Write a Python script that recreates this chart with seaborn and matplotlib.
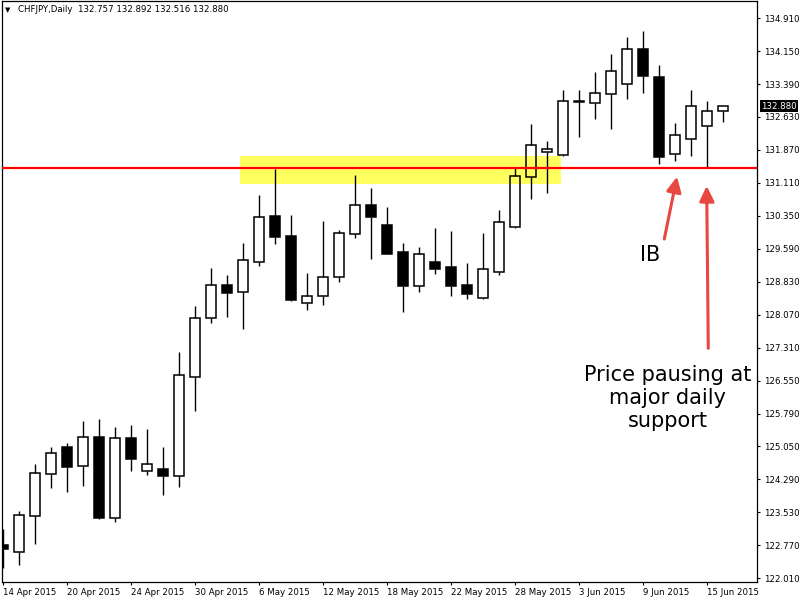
import numpy as np
import pandas as pd
import matplotlib
matplotlib.use("Agg")
import matplotlib.pyplot as plt
import matplotlib.transforms as mtransforms
import matplotlib.patheffects as pe
from matplotlib.patches import Rectangle
import seaborn as sns

sns.set_theme(style="white")
plt.rcParams["font.family"] = ["DejaVu Sans"]

# ---------------- data ----------------
opens = [122.770, 122.616, 123.445, 124.413, 125.021, 124.583, 125.251, 123.385, 125.228, 124.468,
         124.514, 124.353, 126.633, 127.993, 128.753, 128.592, 129.283, 130.342, 129.882, 128.338,
         128.500, 128.937, 129.928, 130.596, 130.135, 129.513, 128.730, 129.283, 129.166, 128.753,
         128.453, 129.052, 130.089, 131.241, 131.817, 131.747, 132.985, 132.945, 133.153, 133.383,
         134.189, 133.544, 131.771, 132.123, 132.416, 132.757]
highs = [123.132, 123.554, 124.636, 125.028, 125.120, 125.627, 125.673, 125.489, 125.535, 125.443,
         125.028, 127.223, 128.276, 129.151, 128.990, 129.727, 130.833, 131.425, 130.365, 129.029,
         130.234, 130.027, 131.294, 130.987, 130.557, 129.727, 129.635, 130.073, 130.004, 129.267,
         129.958, 130.487, 131.478, 132.462, 132.077, 133.252, 133.252, 133.666, 134.081, 134.473,
         134.611, 133.828, 132.485, 133.252, 132.998, 132.892]
lows = [122.233, 122.317, 122.793, 124.090, 123.998, 124.136, 123.362, 123.307, 124.482, 124.390,
        123.929, 124.113, 125.864, 127.891, 128.030, 127.753, 129.204, 129.711, 128.398, 128.191,
        128.306, 128.836, 129.842, 129.352, 129.474, 128.145, 128.605, 129.020, 128.500, 128.444,
        128.440, 128.997, 130.080, 130.741, 130.872, 131.740, 132.176, 132.577, 132.360, 133.051,
        133.190, 131.554, 131.623, 131.724, 131.485, 132.516]
closes = [122.685, 123.455, 124.422, 124.883, 124.574, 125.251, 123.385, 125.228, 124.758, 124.629,
          124.367, 126.680, 127.993, 128.760, 128.582, 129.329, 130.319, 129.872, 128.421, 128.500,
          128.937, 129.951, 130.596, 130.333, 129.481, 128.744, 129.467, 129.135, 128.730, 128.560,
          129.121, 130.204, 131.264, 131.978, 131.886, 132.991, 132.995, 133.176, 133.683, 134.189,
          133.567, 131.701, 132.208, 132.876, 132.761, 132.880]

x_tick_labels = ["14 Apr 2015", "20 Apr 2015", "24 Apr 2015", "30 Apr 2015", "6 May 2015",
                 "12 May 2015", "18 May 2015", "22 May 2015", "28 May 2015", "3 Jun 2015",
                 "9 Jun 2015", "15 Jun 2015"]
y_tick_values = [134.910, 134.150, 133.390, 132.630, 131.870, 131.110, 130.350, 129.590, 128.830,
                 128.070, 127.310, 126.550, 125.790, 125.050, 124.290, 123.530, 122.770, 122.010]
y_tick_labels = ["134.910", "134.150", "133.390", "132.630", "131.870", "131.110", "130.350",
                 "129.590", "128.830", "128.070", "127.310", "126.550", "125.790", "125.050",
                 "124.290", "123.530", "122.770", "122.010"]

support_level = 131.448
zone_low, zone_high = 131.093, 131.731
current_price = 132.880
title_text = "CHFJPY,Daily  132.757 132.892 132.516 132.880"

df = pd.DataFrame({"open": opens, "high": highs, "low": lows, "close": closes})
df["idx"] = np.arange(len(df))
df["top"] = df[["open", "close"]].max(axis=1)
df["bot"] = df[["open", "close"]].min(axis=1)
df["bull"] = df["close"] >= df["open"]

# ---------------- figure ----------------
fig = plt.figure(figsize=(8, 6), dpi=100)
fig.patch.set_facecolor("white")
ax = fig.add_axes([2 / 800, 1 - 582 / 600, 755 / 800, 581 / 600])
ax.set_facecolor("white")

# yellow zone
ax.add_patch(Rectangle((14.81, zone_low), 34.875 - 14.81, zone_high - zone_low,
                       facecolor="#ffff60", edgecolor="none", zorder=0.5))

# wicks
ax.vlines(df["idx"], df["top"], df["high"], color="black", lw=1.0, zorder=2)
ax.vlines(df["idx"], df["low"], df["bot"], color="black", lw=1.0, zorder=2)

# bodies
heights = np.maximum(df["top"] - df["bot"], 0.004)
bull = df["bull"].values
ax.bar(df["idx"][bull], heights[bull], bottom=df["bot"][bull], width=0.66,
       facecolor="none", edgecolor="black", linewidth=1.1, zorder=3)
ax.bar(df["idx"][~bull], heights[~bull], bottom=df["bot"][~bull], width=0.66,
       facecolor="black", edgecolor="black", linewidth=1.1, zorder=3)

# support line
ax.axhline(support_level, color="#ff0000", lw=1.6, zorder=4)

ax.set_xlim(-0.0625, 47.125)
ax.set_ylim(121.918, 135.302)

# axes styling
for s in ax.spines.values():
    s.set_color("black")
    s.set_linewidth(0.9)
    s.set_visible(True)

ax.yaxis.tick_right()
ax.set_yticks(y_tick_values)
ax.set_yticklabels(y_tick_labels)
ax.set_xticks(list(range(0, 4 * len(x_tick_labels), 4)))
ax.set_xticklabels(x_tick_labels, ha="left")
ax.tick_params(axis="y", which="both", left=False, right=True, labelleft=False, labelright=True,
               direction="out", length=2.5, width=0.8, color="black", labelsize=6.2,
               labelcolor="black", pad=2.5)
ax.tick_params(axis="x", which="both", bottom=True, top=False, direction="out", length=2.5,
               width=0.8, color="black", labelsize=6.2, labelcolor="black", pad=2)
ax.grid(False)

# current price tag
trans = mtransforms.blended_transform_factory(ax.transAxes, ax.transData)
ax.text(1 + 4 / 755, current_price, "132.880", transform=trans, ha="left", va="center",
        fontsize=6.2, color="white", zorder=10, clip_on=False,
        bbox=dict(facecolor="black", edgecolor="none", pad=1.0))

# title
fig.text(5 / 800, 1 - 10 / 600, "\u25bc", fontsize=5, va="center", ha="left", color="black")
fig.text(18 / 800, 1 - 10 / 600, title_text, fontsize=6.2, va="center", ha="left", color="black")

# annotations
arrow_color = "#e8483f"
shadow = [pe.SimplePatchShadow(offset=(1.5, -1.5), alpha=0.25), pe.Normal()]
for tip, tail in [((42.125, 131.255), (41.33, 129.819)), ((43.98, 131.040), (44.08, 127.302))]:
    ax.annotate("", xy=tip, xytext=tail,
                arrowprops=dict(arrowstyle="-|>,head_length=0.45,head_width=0.22",
                                color=arrow_color, lw=2.2, shrinkA=0, shrinkB=0,
                                mutation_scale=20, path_effects=shadow), zorder=6)

ax.text(40.44, 129.451, "IB", fontsize=15, ha="center", va="center", color="black", zorder=7)
ax.text(41.56, 126.157, "Price pausing at\nmajor daily\nsupport", fontsize=15, ha="center",
        va="center", color="black", linespacing=1.2, zorder=7)

fig.savefig("out.png", dpi=100)
